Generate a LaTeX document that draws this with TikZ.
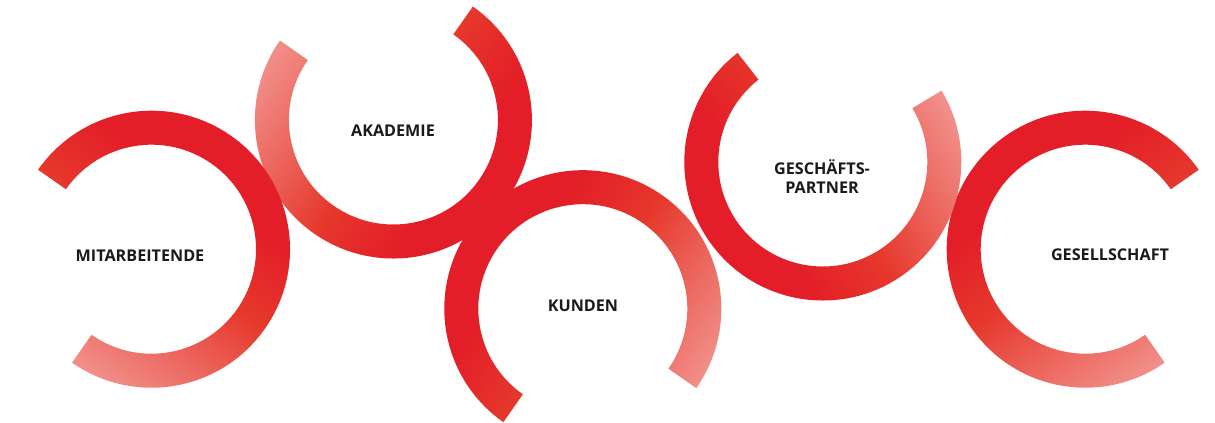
\documentclass[tikz,border=0pt]{standalone}
\usepackage{fontspec}
\setmainfont{Open Sans}
\usetikzlibrary{calc}
\definecolor{ringred}{RGB}{227,30,40}
\definecolor{ringorange}{RGB}{230,56,44}
\definecolor{ringpink}{RGB}{241,142,136}
\definecolor{labelgray}{RGB}{26,26,26}
\pgfdeclareverticalshading{ringfade}{100bp}{color(0bp)=(ringpink); color(25bp)=(ringpink);
  color(48bp)=(ringorange); color(61bp)=(ringred); color(100bp)=(ringred)}
\tikzset{
  ringlabel/.style={font=\fontsize{11.5}{13.2}\selectfont\bfseries,
    text=labelgray, align=center, inner sep=0pt}
}

\begin{document}
\begin{tikzpicture}[x=0.025cm, y=0.025cm]
  \useasboundingbox (0,0) rectangle (1215,422);
  % rings, back to front
  \foreach \cx/\cy/\sa/\ea/\rot in {1085.2/172.8/35/305/35, 822.8/260/128/391/121,
      582.8/113.3/-35/235/55, 393.4/302/145/415/-125, 151.5/172.8/-125/145/-35} {
    \shade[shading=ringfade, shading angle=\rot]
      (\cx,\cy) ++(\sa:138.5) arc[start angle=\sa, end angle=\ea, radius=138.5]
      -- ($(\cx,\cy)+(\ea:104.5)$) arc[start angle=\ea, end angle=\sa, radius=104.5] -- cycle;
  }
  % labels
  \node[ringlabel] (mitarb) at (140,166) {MITARBEITENDE};
  \node[ringlabel] (akad) at (393,291.5) {AKADEMIE};
  \node[ringlabel] (kunden) at (583,116) {KUNDEN};
  \node[ringlabel] (partner) at (822,245.3) {GESCHÄFTS-\\PARTNER};
  \node[ringlabel] (gesell) at (1110,167) {GESELLSCHAFT};
\end{tikzpicture}
\end{document}
